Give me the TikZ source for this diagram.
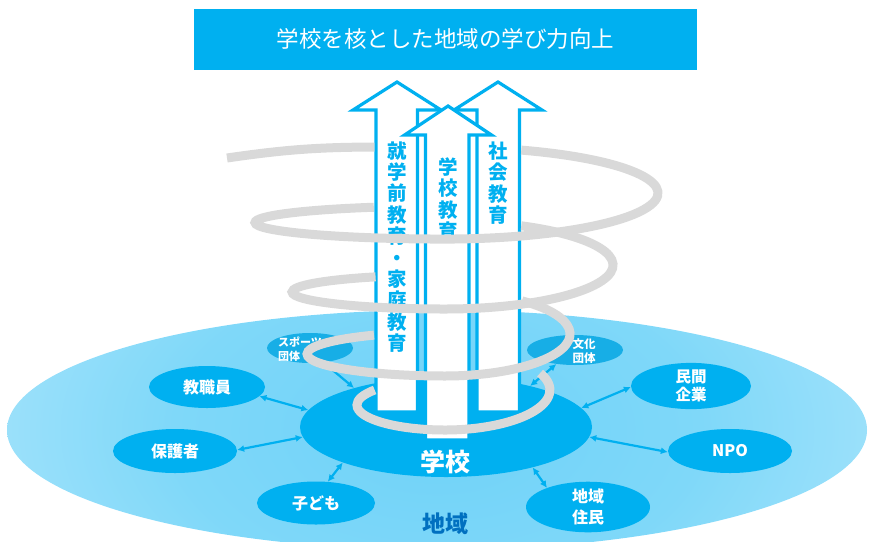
\documentclass[tikz,border=0pt]{standalone}
\usepackage{fontspec}
\setmainfont{Noto Sans CJK JP}
\usetikzlibrary{arrows.meta,shapes,positioning}

\definecolor{skyblue}{HTML}{00B0F0}
\definecolor{minorblue}{HTML}{17AEE6}
\definecolor{deepblue}{HTML}{0070C0}
\definecolor{coilgray}{HTML}{D9D9D9}
\definecolor{regioninner}{HTML}{6FD2F8}
\definecolor{regionmid}{HTML}{7FD8F9}
\definecolor{regionouter}{HTML}{E4F6FD}
\pgfdeclareradialshading{regionshade}{\pgfpoint{0bp}{0bp}}{color(0bp)=(regioninner); color(15bp)=(regionmid); color(50bp)=(regionouter)}
\newcommand{\jsize}[2]{\fontsize{#1}{#2}\selectfont}

\begin{document}
\begin{tikzpicture}[x=1pt,y=-1pt,
  group/.style={ellipse, fill=skyblue, inner sep=0pt, text=white, font=\jsize{16}{19}\bfseries, align=center},
  minorgroup/.style={ellipse, fill=minorblue, inner sep=0pt},
  minortext/.style={text=white, inner sep=0pt, align=left, font=\jsize{11}{13.5}\bfseries},
  link/.style={{Latex[length=7pt,width=7pt]}-{Latex[length=7pt,width=7pt]}, draw=skyblue, line width=2.2pt},
  blockarrow/.style={draw=skyblue, fill=white, line width=3.2pt, line join=miter},
  vtext/.style={text=skyblue, inner sep=0pt, align=center, font=\jsize{19.5}{21.4}\bfseries},
  coil/.style={draw=coilgray, line width=9pt}]
\useasboundingbox (0,0) rectangle (869,541);

% region (chiiki)
\begin{scope}
  \clip (437,430) ellipse [x radius=430, y radius=120];
  \shade[shading=regionshade] (437,430) ellipse [x radius=440, y radius=260];
\end{scope}
\node[text=deepblue, font=\jsize{23}{26}\bfseries] (regionlabel) at (445,524) {地域};

% school in the middle
\node[ellipse, fill=skyblue, minimum width=292, minimum height=100] (school) at (446,427) {};
\node[text=white, font=\jsize{25}{28}\bfseries] (schoollabel) at (445,462) {学校};

% groups round the school
\node[group, minimum width=116, minimum height=42] (staff) at (207,387) {教職員};
\node[group, minimum width=124, minimum height=44] (parents) at (175,451) {保護者};
\node[group, minimum width=118, minimum height=43] (kids) at (316,503) {子ども};
\node[group, minimum width=120, minimum height=42, font=\jsize{15.5}{18.5}\bfseries] (company) at (691,386) {民間\\企業};
\node[group, minimum width=124, minimum height=44] (npo) at (730,451) {NPO};
\node[group, minimum width=124, minimum height=48, font=\jsize{16}{20.5}\bfseries] (residents) at (588,507) {地域\\住民};
\node[minorgroup, minimum width=86, minimum height=30] (sports) at (310,348) {};
\node[minortext] (sportslabel) at (300,349) {スポーツ\\団体};
\node[minorgroup, minimum width=96, minimum height=30] (culture) at (575,350) {};
\node[minortext, font=\jsize{11.5}{14}\bfseries] (culturelabel) at (584,351) {文化\\団体};

% two-way links
\foreach \from/\to in {staff.-10/school.173, parents.1/school.184, kids.61/school.199,
    sports.-47/school.157, culture.217/school.26, company.181/school.8,
    npo.181/school.-4, residents.155/school.-25}
  \draw[link] (\from) -- (\to);

% the three upward arrows
\draw[blockarrow] (376,412) -- (376,110) -- (353,110) -- (397,82) -- (441,110) -- (417.5,110) -- (417.5,412) -- cycle;
\draw[blockarrow] (477,412) -- (477,110) -- (454,110) -- (498,82) -- (542,110) -- (519.5,110) -- (519.5,412) -- cycle;
\draw[blockarrow] (425.5,440) -- (425.5,135) -- (404.5,135) -- (448,106) -- (491.5,135) -- (469,135) -- (469,440) -- cycle;
\node[vtext] (preschool) at (397,247) {就\\学\\前\\教\\育\\・\\家\\庭\\教\\育};
\node[vtext] (schooledu) at (448,199) {学\\校\\教\\育};
\node[vtext] (socialedu) at (498,183) {社\\会\\教\\育};

% spiral, back parts stop at the arrows
\draw[coil] (227,158) to[bend left=4] (374.4,147);
\draw[coil] (521.3,150.1) arc[start angle=-69, end angle=90, x radius=213, y radius=46]
  arc[start angle=90, end angle=248, x radius=190, y radius=16.5];
\draw[coil] (521.3,225.8) arc[start angle=-63, end angle=90, x radius=168, y radius=44]
  arc[start angle=90, end angle=243, x radius=153, y radius=17];
\draw[coil] (522,300.9) arc[start angle=-52, end angle=90, x radius=125, y radius=42]
  arc[start angle=90, end angle=239, x radius=138, y radius=22];
\draw[coil] (540.1,373.1) arc[start angle=-25, end angle=90, x radius=105, y radius=40]
  arc[start angle=90, end angle=217, x radius=88, y radius=25];

% title banner
\node[fill=skyblue, minimum width=503, minimum height=61, text=white, font=\jsize{22.5}{26}] (title) at (445.5,39) {学校を核とした地域の学び力向上};
\end{tikzpicture}
\end{document}
